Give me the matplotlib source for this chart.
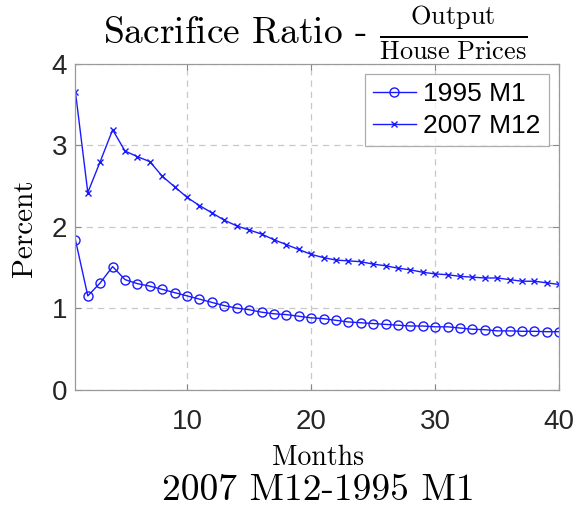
import numpy as np
import matplotlib
matplotlib.use("Agg")
import matplotlib.pyplot as plt

plt.rcParams['mathtext.fontset'] = 'cm'
plt.rcParams['font.family'] = ['Liberation Sans', 'DejaVu Sans']
plt.rcParams['axes.unicode_minus'] = False

# months 1..40
months = np.arange(1, 41)

# 1995 M1 (circles)
sr_1995 = [1.84, 1.15, 1.31, 1.51, 1.35, 1.30, 1.27, 1.23, 1.19, 1.15,
           1.11, 1.07, 1.03, 1.00, 0.98, 0.95, 0.93, 0.92, 0.90, 0.88,
           0.87, 0.85, 0.83, 0.82, 0.81, 0.80, 0.79, 0.78, 0.78, 0.77,
           0.77, 0.755, 0.74, 0.735, 0.72, 0.72, 0.715, 0.715, 0.71, 0.71]

# 2007 M12 (crosses)
sr_2007 = [3.66, 2.42, 2.80, 3.19, 2.93, 2.86, 2.80, 2.62, 2.49, 2.36,
           2.26, 2.17, 2.08, 2.01, 1.96, 1.91, 1.84, 1.78, 1.72, 1.66,
           1.62, 1.59, 1.58, 1.57, 1.54, 1.52, 1.49, 1.47, 1.44, 1.42,
           1.41, 1.39, 1.38, 1.37, 1.37, 1.35, 1.33, 1.33, 1.31, 1.29]

labels = ['1995 M1', '2007 M12']
xticks = [10, 20, 30, 40]
yticks = [0, 1, 2, 3, 4]

W, H = 587, 508
fig = plt.figure(figsize=(W / 100, H / 100), dpi=100)
ax = fig.add_axes([75.4 / W, 1 - 389.5 / H, (559.3 - 75.4) / W, (389.5 - 63.9) / H])

blue = '#1a1aff'
ax.plot(months, sr_1995, color=blue, lw=1.0, marker='o', ms=6.5, mfc='none',
        mew=1.0, label=labels[0])
ax.plot(months, sr_2007, color=blue, lw=1.0, marker='x', ms=4.5, mew=1.0,
        label=labels[1])

ax.set_xlim(1, 40)
ax.set_ylim(0, 4)
ax.set_xticks(xticks)
ax.set_yticks(yticks)
ax.grid(True, ls=(0, (5, 4)), color='#c8c8c8', lw=0.9)
ax.tick_params(direction='in', length=4, color='#888888', labelsize=20,
               labelcolor='#262626', top=True, right=True)
ax.tick_params(axis='x', pad=14)
ax.tick_params(axis='y', pad=6)
for s in ax.spines.values():
    s.set_color('#999999')
    s.set_linewidth(0.9)

leg = ax.legend(loc='upper right', fontsize=19, frameon=True, fancybox=False,
                handlelength=1.6, handletextpad=0.3, borderpad=0.3,
                labelspacing=0.3, borderaxespad=0.4)
leg.get_frame().set_edgecolor('#999999')
leg.get_frame().set_linewidth(0.9)

serif = 'cmr10'
fig.text(25 / W, 1 - 228 / H, 'Percent', rotation=90, family=serif,
         ha='center', va='center', fontsize=21)
fig.text(318 / W, 1 - 465 / H, 'Months', ha='center', va='baseline',
         family=serif, fontsize=20)
fig.text(318 / W, 1 - 500 / H, '2007 M12-1995 M1', ha='center',
         va='baseline', family=serif, fontsize=27)
fig.text(315 / W, 1 - 44 / H,
         r'Sacrifice Ratio - $\frac{\mathrm{Output}}{\mathrm{House\ Prices}}$',
         ha='center', va='baseline', family=serif, fontsize=27)

fig.savefig('out.png', dpi=100)
